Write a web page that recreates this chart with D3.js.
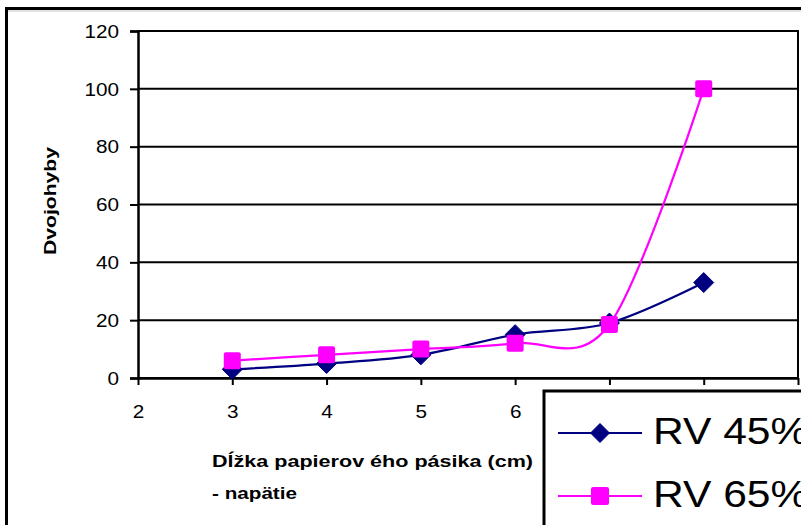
<!DOCTYPE html>
<html>
<head>
<meta charset="utf-8">
<script src="https://cdn.jsdelivr.net/npm/d3@7"></script>
<style>
  html, body { margin: 0; padding: 0; background: #fff; }
  svg { display: block; }
  text { font-family: "Liberation Sans", Arial, sans-serif; fill: #000; }
</style>
</head>
<body>
<svg id="chart" width="801" height="525"></svg>
<script>
// ---- data ----
const xValues = [3, 4, 5, 6, 7, 8];
const rv45 = [3, 5, 8, 15, 19, 33];
const rv65 = [6, 8, 10, 12, 18.5, 100];
const seriesNames = ["RV 45%", "RV 65%"];
const xTicks = [2, 3, 4, 5, 6, 7, 8, 9];
const yTicks = [0, 20, 40, 60, 80, 100, 120];
const yTitle = "Dvojohyby";
const xTitleLines = ["Dĺžka papierov ého pásika (cm)", "- napätie"];

// ---- layout ----
const W = 801, H = 525;
const plot = { left: 138, right: 798, top: 31, bottom: 378 };
const STRETCH = 1.15;

const svg = d3.select("#chart");
svg.append("rect").attr("width", W).attr("height", H).attr("fill", "#fff");

// outer chart border (extends past the picture on right/bottom)
svg.append("line").attr("x1", 6).attr("x2", W + 5).attr("y1", 11).attr("y2", 11)
  .attr("stroke", "#c8c8c8").attr("stroke-width", 1);
svg.append("rect").attr("x", 6.5).attr("y", 8.5).attr("width", W + 20).attr("height", H + 20)
  .attr("fill", "none").attr("stroke", "#000").attr("stroke-width", 3);

const x = d3.scaleLinear().domain([2, 9]).range([plot.left, plot.right]);
const y = d3.scaleLinear().domain([0, 120]).range([plot.bottom, plot.top]);

function stretch(sel, factor) {
  sel.each(function () {
    const len = this.getComputedTextLength();
    d3.select(this).attr("textLength", len * factor).attr("lengthAdjust", "spacingAndGlyphs");
  });
}

// gridlines
svg.append("g").selectAll("line").data(yTicks).join("line")
  .attr("x1", plot.left).attr("x2", plot.right)
  .attr("y1", d => y(d)).attr("y2", d => y(d))
  .attr("stroke", "#000").attr("stroke-width", 2);

// right border of plot
svg.append("line").attr("x1", plot.right).attr("x2", plot.right)
  .attr("y1", plot.top - 1).attr("y2", plot.bottom + 1)
  .attr("stroke", "#000").attr("stroke-width", 2);

// y axis
const yAxis = d3.axisLeft(y).tickValues(yTicks).tickSize(8).tickPadding(11).tickFormat(d3.format("d"));
const gy = svg.append("g").attr("transform", `translate(${plot.left},0)`).call(yAxis);
gy.select(".domain").attr("stroke", "#000").attr("stroke-width", 2.5);
gy.selectAll(".tick line").attr("stroke", "#000").attr("stroke-width", 2);
gy.selectAll(".tick text").attr("font-size", 18).attr("font-family", "Liberation Sans, Arial, sans-serif")
  .attr("fill", "#000").attr("dy", "0.35em");
stretch(gy.selectAll(".tick text"), STRETCH);

// x axis
const xAxis = d3.axisBottom(x).tickValues(xTicks).tickSize(7).tickSizeOuter(0).tickPadding(20).tickFormat(d3.format("d"));
const gx = svg.append("g").attr("transform", `translate(0,${plot.bottom})`).call(xAxis);
gx.select(".domain").attr("stroke", "#000").attr("stroke-width", 2.5);
gx.selectAll(".tick line").attr("stroke", "#000").attr("stroke-width", 2);
gx.selectAll(".tick text").attr("font-size", 18).attr("font-family", "Liberation Sans, Arial, sans-serif")
  .attr("fill", "#000").attr("dy", "0");
gx.selectAll(".tick text").attr("y", 40);
stretch(gx.selectAll(".tick text"), STRETCH);

// titles
svg.append("text")
  .attr("transform", "translate(56,201) rotate(-90)")
  .attr("text-anchor", "middle")
  .attr("font-size", 16).attr("font-weight", "bold")
  .attr("textLength", 108).attr("lengthAdjust", "spacingAndGlyphs")
  .text(yTitle);

svg.append("text").attr("x", 212).attr("y", 467)
  .attr("font-size", 17).attr("font-weight", "bold")
  .attr("textLength", 321).attr("lengthAdjust", "spacingAndGlyphs")
  .text(xTitleLines[0]);
svg.append("text").attr("x", 212).attr("y", 499)
  .attr("font-size", 17).attr("font-weight", "bold")
  .attr("textLength", 85).attr("lengthAdjust", "spacingAndGlyphs")
  .text(xTitleLines[1]);

// series
const series = [
  { name: seriesNames[0], values: rv45, color: "#000080", marker: "diamond" },
  { name: seriesNames[1], values: rv65, color: "#FF00FF", marker: "square" }
];

const line = d3.line()
  .x(d => x(d[0])).y(d => y(d[1]))
  .curve(d3.curveCardinal.tension(0));

const diamond = d3.symbol().type(d3.symbolDiamond2).size(180);
function drawMarker(g, type, color, cx, cy, legend) {
  if (type === "diamond") {
    const s = legend ? 9.5 : 10;
    g.append("path")
      .attr("d", `M${cx},${cy - s}L${cx + s},${cy}L${cx},${cy + s}L${cx - s},${cy}Z`)
      .attr("fill", color).attr("stroke", color).attr("stroke-width", 1);
  } else {
    const s = legend ? 18 : 17;
    g.append("rect")
      .attr("x", cx - s / 2).attr("y", cy - s / 2)
      .attr("width", s).attr("height", s).attr("rx", 2)
      .attr("fill", color);
  }
}

series.forEach(s => {
  const pts = xValues.map((xv, i) => [xv, s.values[i]]);
  const g = svg.append("g");
  g.append("path").datum(pts).attr("d", line)
    .attr("fill", "none").attr("stroke", s.color).attr("stroke-width", 2.2)
    .attr("stroke-linejoin", "round");
  pts.forEach(p => drawMarker(g, s.marker, s.color, x(p[0]), y(p[1]), false));
});

// legend
const lg = svg.append("g");
lg.append("rect").attr("x", 544).attr("y", 391).attr("width", 300).attr("height", 200)
  .attr("fill", "#fff").attr("stroke", "#000").attr("stroke-width", 3);
const legendY = [433, 496];
series.forEach((s, i) => {
  lg.append("line").attr("x1", 558).attr("x2", 642)
    .attr("y1", legendY[i]).attr("y2", legendY[i])
    .attr("stroke", s.color).attr("stroke-width", 2.2);
  drawMarker(lg, s.marker, s.color, 600, legendY[i], true);
  const t = lg.append("text").attr("x", 653).attr("y", legendY[i] + 11)
    .attr("font-size", 37).text(s.name);
  stretch(t, STRETCH);
});
</script>
</body>
</html>
